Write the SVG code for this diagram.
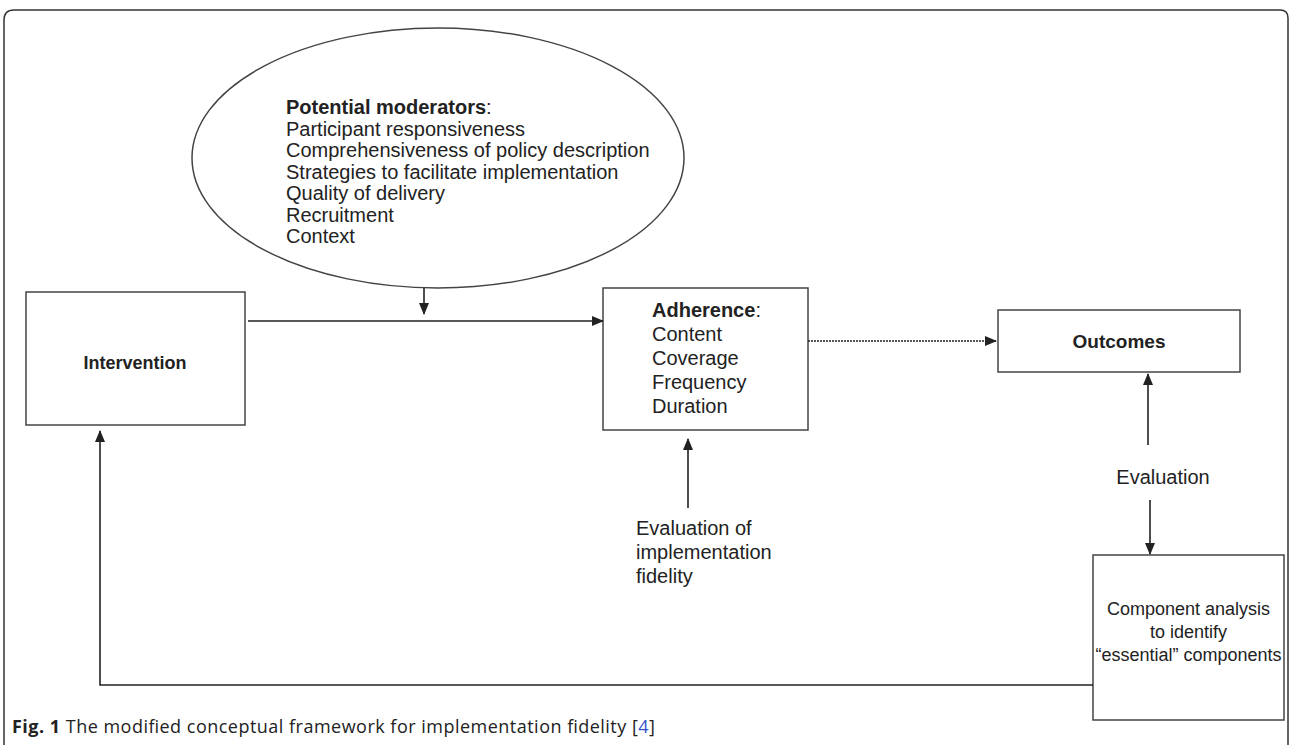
<svg xmlns="http://www.w3.org/2000/svg" width="1290" height="745" viewBox="0 0 1290 745">
<defs>
<marker id="ah" markerWidth="12" markerHeight="10" refX="11" refY="5" orient="auto" markerUnits="userSpaceOnUse">
<path d="M0,0 L12,5 L0,10 Z" fill="#222"/>
</marker>
<style>
.box{fill:#fff;stroke:#444;stroke-width:1.5}
.t{font-family:"Liberation Sans",Arial,sans-serif;font-size:20px;fill:#222}
.b{font-weight:bold}
.s18{font-size:18px}
.s19{font-size:19px}
.c{stroke:#222;stroke-width:1.6;fill:none}
.cap{font-family:"Open Sans","Liberation Sans",sans-serif;font-size:18px;fill:#222}
</style>
</defs>
<rect width="1290" height="745" fill="#fff"/>
<path d="M4,745 L4,20 Q4,10 14,10 L1280,10 Q1288,10 1288,18 L1288,745" fill="none" stroke="#333" stroke-width="1.5"/>

<g id="moderators">
<ellipse cx="438" cy="158" rx="246" ry="130" fill="#fff" stroke="#444" stroke-width="1.5"/>
<text class="t" x="286" y="114"><tspan class="b">Potential moderators</tspan>:</text>
<text class="t" x="286" y="136">Participant responsiveness</text>
<text class="t" x="286" y="157">Comprehensiveness of policy description</text>
<text class="t" x="286" y="179">Strategies to facilitate implementation</text>
<text class="t" x="286" y="200">Quality of delivery</text>
<text class="t" x="286" y="222">Recruitment</text>
<text class="t" x="286" y="243">Context</text>
</g>

<g id="intervention">
<rect class="box" x="26" y="292" width="219" height="133"/>
<text class="t b s18" x="135" y="369" text-anchor="middle">Intervention</text>
</g>

<g id="adherence">
<rect class="box" x="603" y="288" width="205" height="142"/>
<text class="t" x="652" y="317"><tspan class="b">Adherence</tspan>:</text>
<text class="t" x="652" y="341">Content</text>
<text class="t" x="652" y="365">Coverage</text>
<text class="t" x="652" y="389">Frequency</text>
<text class="t" x="652" y="413">Duration</text>
</g>

<g id="outcomes">
<rect class="box" x="998" y="310" width="242" height="62"/>
<text class="t b s19" x="1119" y="348" text-anchor="middle">Outcomes</text>
</g>

<g id="component">
<rect class="box" x="1093" y="555" width="191" height="165"/>
<text class="t s18" x="1188.5" y="615" text-anchor="middle">Component analysis</text>
<text class="t s18" x="1188.5" y="638" text-anchor="middle">to identify</text>
<text class="t s18" x="1188.5" y="661" text-anchor="middle">“essential” components</text>
</g>

<g id="eval-fidelity">
<text class="t" x="636" y="535">Evaluation of</text>
<text class="t" x="636" y="559">implementation</text>
<text class="t" x="636" y="583">fidelity</text>
</g>

<g id="eval-label">
<text class="t" x="1163" y="484" text-anchor="middle">Evaluation</text>
</g>

<g id="connectors">
<line class="c" x1="248" y1="321" x2="603" y2="321" marker-end="url(#ah)"/>
<line class="c" x1="424" y1="288" x2="424" y2="314" marker-end="url(#ah)"/>
<line class="c" x1="808" y1="341" x2="996" y2="341" stroke-dasharray="2 1" marker-end="url(#ah)"/>
<line class="c" x1="688" y1="508" x2="688" y2="439" marker-end="url(#ah)"/>
<line class="c" x1="1148" y1="445" x2="1148" y2="374" marker-end="url(#ah)"/>
<line class="c" x1="1150" y1="500" x2="1150" y2="554" marker-end="url(#ah)"/>
<polyline class="c" points="1093,685 100,685 100,431" marker-end="url(#ah)"/>
</g>

<text class="cap" x="12" y="733" textLength="643" lengthAdjust="spacing"><tspan font-weight="bold">Fig. 1</tspan> The modified conceptual framework for implementation fidelity [<tspan fill="#3355cc">4</tspan>]</text>
</svg>
